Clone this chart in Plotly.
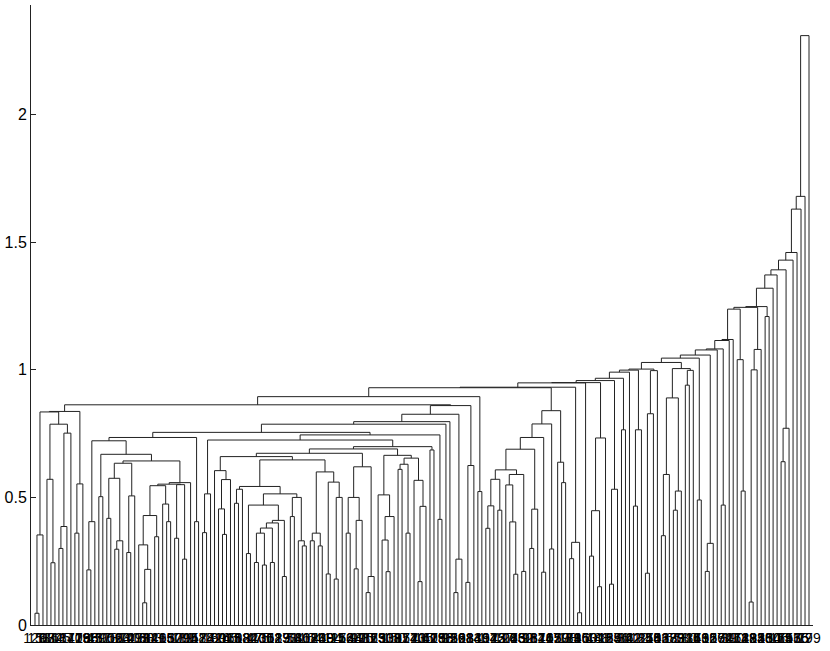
import plotly.graph_objects as go

# height at which each pair of neighbouring leaves first joins (left to right)
gaps_left = [
    0.046, 0.353, 0.835, 0.571, 0.244, 0.787, 0.30, 0.386, 0.752, 0.837, 0.36, 0.553,
    0.863,
    0.216, 0.405, 0.722, 0.503, 0.669, 0.418, 0.575, 0.297, 0.33, 0.634, 0.284, 0.506,
    0.643, 0.314, 0.087, 0.218, 0.429, 0.346, 0.546, 0.474, 0.405, 0.552, 0.34, 0.55,
    0.258, 0.558, 0.735, 0.405, 0.755,
]
gaps_middle = [
    0.362, 0.514, 0.725,
    0.605, 0.455, 0.355, 0.57, 0.66, 0.477, 0.532, 0.543,
    0.28, 0.47, 0.245, 0.36, 0.235, 0.38, 0.245, 0.40, 0.41, 0.19, 0.514, 0.425, 0.50,
    0.33, 0.31, 0.647,
    0.33, 0.36, 0.31, 0.60, 0.20, 0.56, 0.18, 0.50, 0.673,
    0.36, 0.50, 0.22, 0.41, 0.62, 0.127, 0.19, 0.690,
    0.51, 0.333, 0.209, 0.425, 0.665,
    0.61, 0.63, 0.36, 0.654, 0.567, 0.17, 0.465,
    0.699, 0.686, 0.745, 0.414, 0.787, 0.797, 0.826, 0.127, 0.258, 0.860, 0.167, 0.625,
    0.895, 0.523, 0.930,
]
gaps_q = [
    0.379, 0.467, 0.571, 0.45, 0.608, 0.549, 0.404, 0.199, 0.59, 0.21, 0.689,
    0.30, 0.454, 0.735, 0.207, 0.788, 0.298, 0.84, 0.638, 0.558, 0.932,
]
gaps_right = [
    0.26, 0.324, 0.048, 0.949, 0.950,
    0.27, 0.448, 0.15, 0.733, 0.958, 0.16, 0.532, 0.967, 0.765, 0.991, 0.999,
    0.466, 0.765, 1.003, 0.203, 0.828, 0.997, 1.029,
    0.35, 0.59, 0.89, 0.45, 0.525, 1.005, 0.94, 0.998, 1.046,
    0.49, 1.058, 0.21, 0.32, 1.078, 1.082, 0.47, 1.115, 1.119, 1.238,
    1.04, 0.525, 1.245, 0.09, 1.0, 1.08, 1.248, 1.209,
    1.32, 1.372, 1.392, 0.64, 0.771, 1.43, 1.46, 1.63, 1.68, 2.31,
]

leaf_labels = [
    126, 153, 11, 98, 172, 34, 61, 187, 5, 140, 77, 119, 23, 166, 88,
    45, 131, 9, 178, 102, 56, 193, 14, 70, 147, 29, 113, 160, 38, 84,
    121, 3, 195, 66, 137, 52, 109, 181, 19, 95, 158, 41, 128, 74, 7,
    169, 90, 26, 145, 115, 60, 188, 12, 134, 82, 47, 175, 100, 31, 152,
    68, 123, 17, 191, 93, 58, 141, 36, 107, 164, 2, 80, 130, 49, 184,
    111, 25, 156, 72, 138, 44, 99, 170, 15, 87, 125, 63, 190, 33, 118,
    150, 8, 97, 177, 54, 143, 21, 105, 161, 40, 129, 75, 186, 13, 92,
    136, 59, 168, 28, 114, 83, 149, 1, 194, 67, 122, 43, 157, 104, 20,
    173, 86, 132, 50, 96, 182, 37, 144, 10, 117, 65, 159, 27, 108, 189,
    71, 135, 46, 163, 4, 101, 148, 81, 18, 124, 55, 176, 91, 32, 142,
    62, 112, 185, 24, 155, 78, 103, 42, 167, 6, 133, 89, 51, 180, 116,
    35, 146, 73, 192, 16, 127, 57, 162, 94, 39, 110, 171, 64, 139, 22,
    183, 85, 120, 48, 154, 30, 106, 174, 69, 151, 53, 165, 76, 79, 179,
]
y_ticks = [0, 0.5, 1, 1.5, 2]
y_tick_text = ["0", "0.5", "1", "1.5", "2"]

gaps = gaps_left + gaps_middle + gaps_q + gaps_right
n = len(gaps) + 1

xs, ys = [], []


def build(a, b):
    # leaves a..b -> (x of the cluster, its height); splits at the highest join
    if a == b:
        return a + 1, 0.0
    k = max(range(a, b), key=lambda i: gaps[i])
    h = gaps[k]
    lx, lh = build(a, k)
    rx, rh = build(k + 1, b)
    xs.extend([lx, lx, rx, rx, None])
    ys.extend([lh, h, h, rh, None])
    return (lx + rx) / 2, h


build(0, n - 1)

FONT = dict(family="Helvetica, Arial, 'Liberation Sans', sans-serif", color="#000000")

fig = go.Figure(go.Scatter(
    x=xs,
    y=ys,
    mode="lines",
    line=dict(color="#222222", width=1),
    hoverinfo="skip",
    showlegend=False,
))

fig.update_layout(
    width=830,
    height=651,
    paper_bgcolor="white",
    plot_bgcolor="white",
    font=FONT,
    margin=dict(l=29, r=17, t=5, b=26),
    xaxis=dict(
        range=[0, n + 1],
        tickmode="array",
        tickvals=list(range(1, n + 1)),
        ticktext=[str(v) for v in leaf_labels[:n]],
        tickangle=0,
        ticks="",
        tickfont=dict(size=14),
        showgrid=False,
        zeroline=False,
        showline=True,
        linecolor="#222222",
        linewidth=1,
    ),
    yaxis=dict(
        range=[0, 2.43],
        tickmode="array",
        tickvals=y_ticks,
        ticktext=y_tick_text,
        ticks="inside",
        ticklen=5,
        tickcolor="#222222",
        tickfont=dict(size=16),
        showgrid=False,
        zeroline=False,
        showline=True,
        linecolor="#222222",
        linewidth=1,
    ),
)

# the page has a default body margin; drop it so the figure sits at the corner
fig.write_html(
    "out.html",
    config={"displayModeBar": False},
    post_script="document.body.style.margin='0';",
)
